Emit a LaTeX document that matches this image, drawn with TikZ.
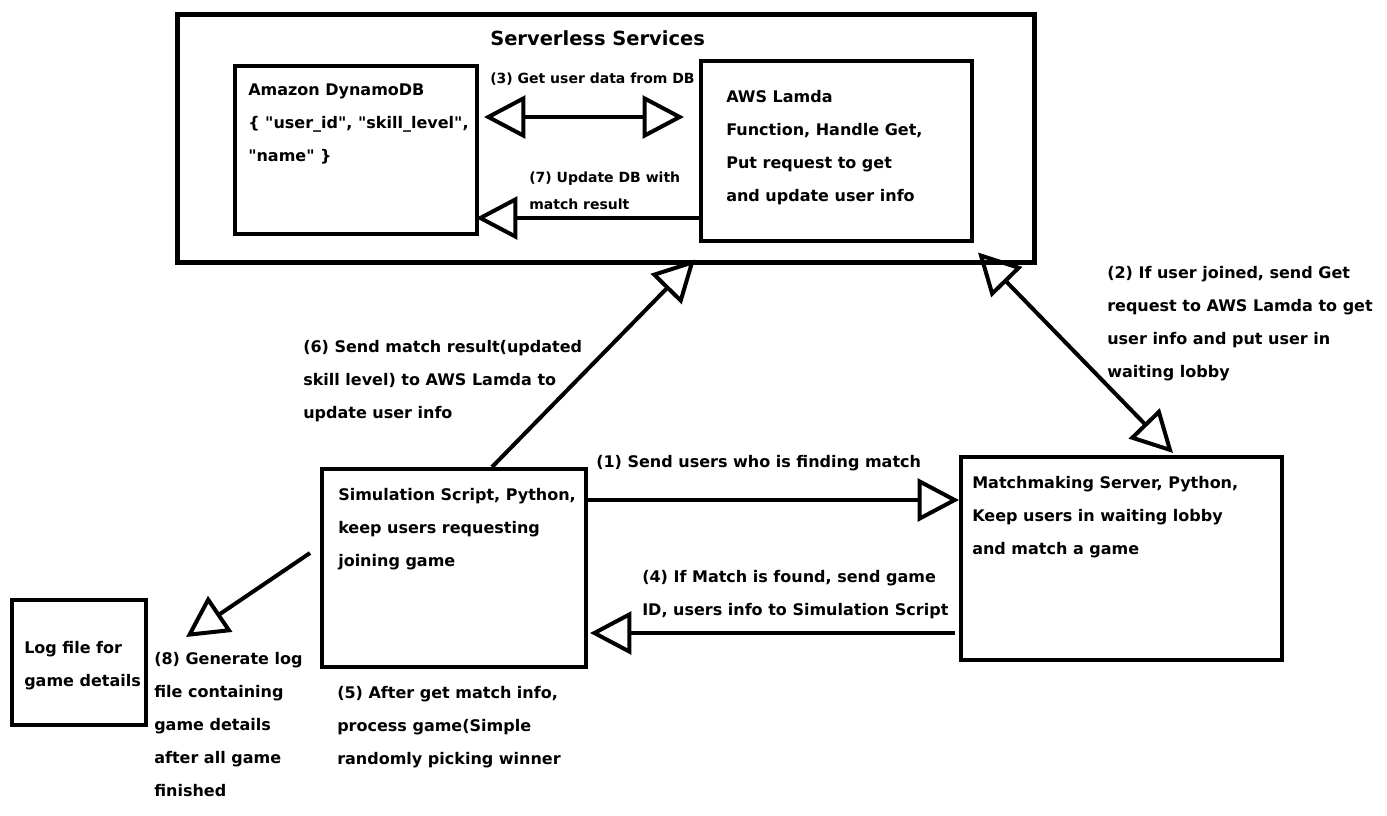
\documentclass[tikz,border=0pt]{standalone}
\usetikzlibrary{arrows.meta}
\font\fmain="DejaVu Sans/B" at 12pt
\font\fsmall="DejaVu Sans/B" at 10.5pt
\font\ftitle="DejaVu Sans/B" at 14.6pt
\begin{document}
\begin{tikzpicture}[x=0.75pt,y=-0.75pt,
  box/.style={draw, line width=3pt, inner sep=0pt},
  txt/.style={anchor=north west, inner sep=0pt, align=left, font={\fmain\baselineskip=24.75pt}},
  small/.style={anchor=north west, inner sep=0pt, align=left, font={\fsmall\baselineskip=20.25pt}},
  conn/.style={line width=3pt},
  >={Triangle[open, length=31pt, width=32pt]}
]
\fill[white] (0,0) rectangle (1387,815);
\useasboundingbox (0,0) rectangle (1387,815);

% boxes
\node[box, line width=3.75pt, minimum width=642.75pt, minimum height=186pt] (sls) at (605.5,138) {};
\node[font=\ftitle, anchor=north west, inner sep=0pt] (slst) at (490,30) {Serverless Services};
\node[box, minimum width=181.5pt, minimum height=126pt] (db) at (356,150) {};
\node[txt] (dbt) at (248,84) {Amazon DynamoDB\\\{ "user\_id", "skill\_level",\\"name" \}};
\node[box, minimum width=203.25pt, minimum height=135pt] (lam) at (836.5,151) {};
\node[txt] (lamt) at (726,90) {AWS Lamda\\Function, Handle Get,\\Put request to get\\and update user info};
\node[box, minimum width=198pt, minimum height=148.5pt] (sim) at (454,568) {};
\node[txt] (simt) at (338,488) {Simulation Script, Python,\\keep users requesting\\joining game};
\node[box, minimum width=240.75pt, minimum height=152.25pt] (mm) at (1121.5,558.5) {};
\node[txt] (mmt) at (972,476) {Matchmaking Server, Python,\\Keep users in waiting lobby\\and match a game};
\node[box, minimum width=100.5pt, minimum height=93.75pt] (log) at (79,662.5) {};
\node[txt] (logt) at (24,641) {Log file for\\game details};

% connector labels
\node[small] (l3) at (490,72.4) {(3) Get user data from DB};
\node[small] (l7) at (529,171.4) {(7) Update DB with\\match result};
\node[txt] (l6) at (303,340) {(6) Send match result(updated\\skill level) to AWS Lamda to\\update user info};
\node[txt] (l2) at (1107,266) {(2) If user joined, send Get\\request to AWS Lamda to get\\user info and put user in\\waiting lobby};
\node[txt] (l1) at (596,455) {(1) Send users who is finding match};
\node[txt] (l4) at (642,570) {(4) If Match is found, send game\\ID, users info to Simulation Script};
\node[txt] (l8) at (154,652) {(8) Generate log\\file containing\\game details\\after all game\\finished};
\node[txt] (l5) at (337,686) {(5) After get match info,\\process game(Simple\\randomly picking winner};

% connectors
\draw[conn, <->] ([shift={(5,-33)}]db.east) -- ([shift={(-15,-34)}]lam.west);
\draw[conn, ->] ([shift={(0,67)}]lam.west) -- ([shift={(-3,68)}]db.east);
\draw[conn, ->] ([shift={(38,0)}]sim.north) -- ([shift={(89.5,-5)}]sls.south);
\draw[conn, <->] ([shift={(372.5,-12)}]sls.south) -- ([shift={(51.5,-2)}]mm.north);
\draw[conn, ->] ([shift={(0,-68)}]sim.east) -- ([shift={(0,-58.5)}]mm.west);
\draw[conn, ->] ([shift={(-4,74.5)}]mm.west) -- ([shift={(2,65)}]sim.east);
\draw[conn, ->] ([shift={(-10,-15)}]sim.west) -- ([shift={(38,-25.5)}]log.east);
\end{tikzpicture}
\end{document}
